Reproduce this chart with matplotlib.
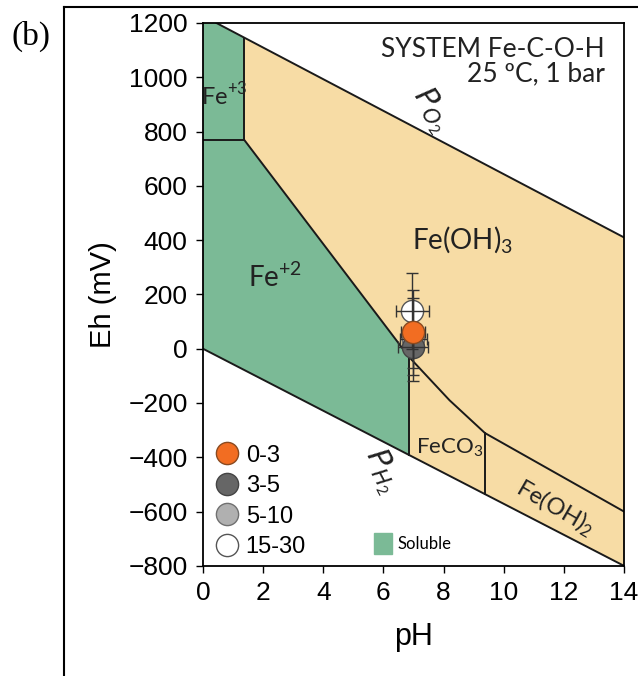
import matplotlib
matplotlib.use('Agg')
import matplotlib.pyplot as plt
from matplotlib.lines import Line2D
from matplotlib.patches import Patch

# stability field boundaries (pH, Eh in mV)
o2_ph = [0.45, 14]
o2_eh = [1200, 410]
h2_ph = [0, 14]
h2_eh = [0, -800]

fe3_ph = [0, 0, 0.45, 1.37, 1.37]
fe3_eh = [770, 1200, 1200, 1146, 770]

fe2_ph = [0, 0, 1.37, 6.85, 6.85]
fe2_eh = [0, 770, 770, -30, -391]

feoh3_ph = [1.37, 14, 14, 9.38, 8.2, 6.85, 1.37]
feoh3_eh = [1146, 410, -600, -311, -190, -30, 770]

feco3_ph = [6.85, 8.2, 9.38, 9.38, 6.85]
feco3_eh = [-30, -190, -311, -536, -391]

feoh2_ph = [9.38, 14, 14, 9.38]
feoh2_eh = [-311, -600, -800, -536]

# inner boundary lines
ox_ph = [1.37, 6.85, 8.2, 9.38, 14]
ox_eh = [770, -30, -190, -311, -600]

# samples by depth
depths = ['0-3', '3-5', '5-10', '15-30']
ph_pts = [6.99, 7.0, 7.0, 6.96]
eh_pts = [60, 5, 35, 140]
ph_err = [0.4, 0.5, 0.45, 0.55]
eh_err = [157, 75, 153, 140]
colors = ['#f26d22', '#666666', '#b0b0b0', '#ffffff']
edges = ['#8a4a20', '#444444', '#707070', '#555555']

green = '#7bba96'
tan = '#f7dca5'

plt.rcParams['font.family'] = ['Liberation Sans', 'DejaVu Sans']
plt.rcParams['mathtext.fontset'] = 'custom'
plt.rcParams['mathtext.rm'] = 'Lato'
plt.rcParams['mathtext.it'] = 'DejaVu Sans:italic'

fig = plt.figure(figsize=(6.38, 6.76), dpi=100)
ax = fig.add_axes([0.318, 0.163, 0.660, 0.803])

# fields
ax.fill(fe3_ph, fe3_eh, color=green, lw=0, zorder=1)
ax.fill(fe2_ph, fe2_eh, color=green, lw=0, zorder=1)
ax.fill(feoh3_ph, feoh3_eh, color=tan, lw=0, zorder=1)
ax.fill(feco3_ph, feco3_eh, color=tan, lw=0, zorder=1)
ax.fill(feoh2_ph, feoh2_eh, color=tan, lw=0, zorder=1)

# boundaries
lk = dict(color='#1a1a1a', lw=1.4, zorder=2)
ax.plot(o2_ph, o2_eh, **lk)
ax.plot(h2_ph, h2_eh, **lk)
ax.plot([0, 1.37], [770, 770], **lk)
ax.plot([1.37, 1.37], [770, 1146], **lk)
ax.plot(ox_ph, ox_eh, **lk)
ax.plot([6.85, 6.85], [-30, -391], **lk)
ax.plot([9.38, 9.38], [-311, -536], **lk)

# samples
order = [2, 1, 3, 0]
for i in order:
    ax.errorbar(ph_pts[i], eh_pts[i], xerr=ph_err[i], yerr=eh_err[i],
                fmt='none', ecolor='#333333', elinewidth=1, capsize=4, zorder=4)
for i in order:
    ax.plot(ph_pts[i], eh_pts[i], 'o', ms=16, mfc=colors[i], mec=edges[i],
            mew=1, zorder=5 if i == 0 else 3)

# field labels
tk = dict(family=['Lato', 'DejaVu Sans'], color='#222222', zorder=6)
ax.text(0.72, 935, r'Fe$^{\mathregular{+3}}$', fontsize=17, ha='center', va='center', **tk)
ax.text(2.4, 265, r'Fe$^{\mathregular{+2}}$', fontsize=20, ha='center', va='center', **tk)
ax.text(6.95, 400, 'Fe(OH)$_3$', fontsize=20, ha='left', va='center', **tk)
ax.text(7.1, -365, 'FeCO$_3$', fontsize=16, ha='left', va='center', **tk)
ax.text(11.7, -585, 'Fe(OH)$_2$', fontsize=17, ha='center', va='center',
        rotation=-30, **tk)
ax.text(7.6, 880, '$P_{O_2}$', fontsize=22, ha='center', va='center',
        rotation=-55, **tk)
ax.text(5.95, -450, '$P_{H_2}$', fontsize=22, ha='center', va='center',
        rotation=-62, **tk)
ax.text(13.35, 1150, 'SYSTEM Fe-C-O-H\n25 ºC, 1 bar', fontsize=19,
        ha='right', va='top', multialignment='right', linespacing=1.0, **tk)

# legends
handles = [Line2D([], [], ls='none', marker='o', ms=16, mfc=colors[i],
                  mec=edges[i], mew=1) for i in range(4)]
leg = ax.legend(handles, depths, loc='lower left', bbox_to_anchor=(-0.005, -0.012),
                frameon=False, fontsize=17, handlelength=1.0, handletextpad=0.3,
                labelspacing=0.36, borderaxespad=0.2)
ax.add_artist(leg)
ax.legend([Patch(color=green)], ['Soluble'], loc='lower left',
          bbox_to_anchor=(0.37, -0.005), frameon=False,
          prop={'family': 'Lato', 'size': 12}, handlelength=1.1,
          handleheight=1.5, handletextpad=0.3)

ax.set_xlim(0, 14)
ax.set_ylim(-800, 1200)
ax.set_xticks(range(0, 15, 2))
ax.set_yticks(range(-800, 1201, 200))
ax.tick_params(direction='out', length=5, width=1, labelsize=19, pad=6)
for s in ax.spines.values():
    s.set_linewidth(1.3)
ax.set_xlabel('pH', fontsize=22, labelpad=12)
ax.set_ylabel('Eh (mV)', fontsize=21, labelpad=8)

# panel frame and tag
fig.add_artist(Line2D([64 / 638, 64 / 638], [0, 1 - 7 / 676], color='black', lw=1.5))
fig.add_artist(Line2D([64 / 638, 1], [1 - 7 / 676, 1 - 7 / 676], color='black', lw=1.5))
fig.text(31 / 638, 1 - 36 / 676, '(b)', fontsize=24, ha='center', va='center',
         family='Liberation Serif')

fig.savefig('out.png', dpi=100)
